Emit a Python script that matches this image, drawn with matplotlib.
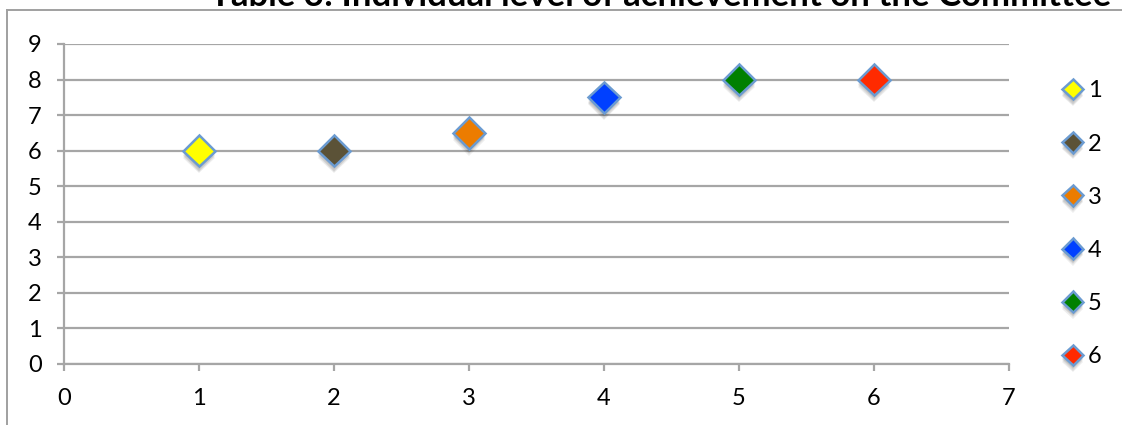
import matplotlib
matplotlib.use("Agg")
import matplotlib.pyplot as plt
import matplotlib.patheffects as pe
from matplotlib.lines import Line2D

# members and their achievement scores
members = ["1", "2", "3", "4", "5", "6"]
positions = [1, 2, 3, 4, 5, 6]
scores = [6, 6, 6.5, 7.5, 8, 8]
colors = ["#ffff00", "#5b5237", "#ec7c00", "#0040ff", "#008000", "#ff2a00"]
title = "Table 3: Individual level of achievement on the Committee"

plt.rcParams['font.family'] = ['Lato', 'DejaVu Sans']
grid_gray = "#a6a6a6"

fig = plt.figure(figsize=(11.22, 4.25), dpi=100)
W, H = 1122, 425
ax = fig.add_axes([64 / W, (H - 364) / H, (1009 - 64) / W, (364 - 44) / H])

# soft drop shadow under each diamond
shadow = [pe.SimplePatchShadow(offset=(0, -d), shadow_rgbFace="#000000", alpha=0.07)
          for d in (2, 3, 4, 5)] + [pe.Normal()]
for name, x, y, c in zip(members, positions, scores, colors):
    ax.plot([x], [y], linestyle="none", marker="D", markersize=16,
            markerfacecolor=c, markeredgecolor="#6b9bd1", markeredgewidth=1.8,
            label=name, path_effects=shadow, zorder=3)

ax.set_xlim(0, 7)
ax.set_ylim(0, 9)
ax.set_xticks(range(0, 8))
ax.set_yticks(range(0, 10))
ax.grid(axis="y", color=grid_gray, linewidth=1.6)
ax.set_axisbelow(True)
for s in ["top", "right"]:
    ax.spines[s].set_visible(False)
for s in ["left", "bottom"]:
    ax.spines[s].set_color(grid_gray)
    ax.spines[s].set_linewidth(1.6)
ax.tick_params(axis="y", length=5, width=1.6, color=grid_gray, labelsize=17, pad=11)
ax.tick_params(axis="x", length=5, width=1.6, color=grid_gray, labelsize=17, pad=12)

ax.legend(loc="upper left", bbox_to_anchor=(1055 / W, 1 - 71 / H),
          bbox_transform=fig.transFigure, frameon=False, fontsize=17,
          labelspacing=1.36, handlelength=0.7, handletextpad=0.3,
          borderaxespad=0, markerscale=0.65)

# chart frame (left and top edges)
fig.add_artist(Line2D([7 / W, 7 / W], [0, 1 - 10 / H], color="#a0a0a0", linewidth=1.4))
fig.add_artist(Line2D([7 / W, 1], [1 - 10 / H, 1 - 10 / H], color="#a0a0a0", linewidth=1.4))

fig.text(661 / W, 1 - 6 / H, title, ha="center", va="baseline",
         fontsize=25, fontweight="bold")

fig.savefig("out.png", dpi=100)
